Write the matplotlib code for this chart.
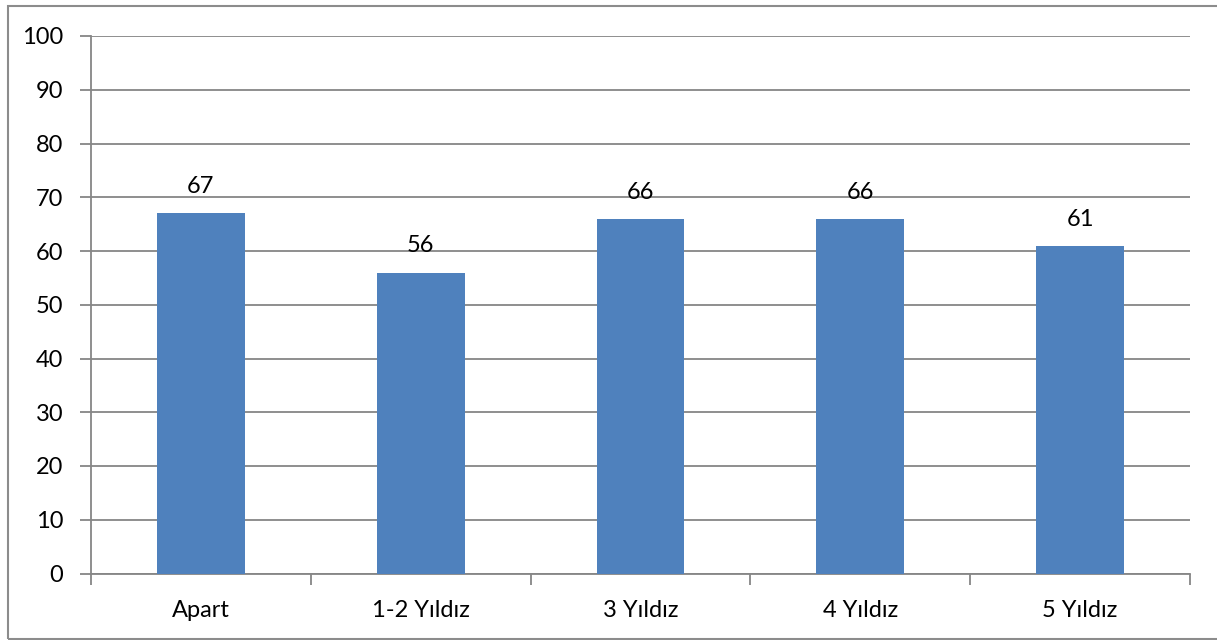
import matplotlib
matplotlib.use("Agg")
import matplotlib.pyplot as plt
from matplotlib.patches import Rectangle

categories = ["Apart", "1-2 Yıldız", "3 Yıldız", "4 Yıldız", "5 Yıldız"]
values = [67, 56, 66, 66, 61]
y_ticks = [0, 10, 20, 30, 40, 50, 60, 70, 80, 90, 100]

W, H = 1217, 640
fig = plt.figure(figsize=(W / 100, H / 100), dpi=100)
plt.rcParams["font.family"] = ["Lato", "DejaVu Sans"]

left, right, top, bottom = 91, 1190, 36, 573.5
ax = fig.add_axes([left / W, 1 - bottom / H, (right - left) / W, (bottom - top) / H])

grid_col = "#868686"
bar_col = "#4F81BD"
fs = 17
x = list(range(len(categories)))
ax.bar(x, values, width=0.4, color=bar_col, zorder=3)

for xi, v in zip(x, values):
    ax.annotate(str(v), (xi, v), xytext=(0, 16), textcoords="offset pixels",
                ha="center", va="bottom", fontsize=fs, color="black")

ax.set_xlim(-0.5, len(categories) - 0.5)
ax.set_ylim(0, 100)
ax.set_yticks(y_ticks)
ax.set_yticklabels([str(t) for t in y_ticks], fontsize=fs)
ax.yaxis.grid(True, color=grid_col, linewidth=1.3, zorder=0)
ax.set_axisbelow(True)

ax.set_xticks(x)
ax.set_xticklabels(categories, fontsize=fs)
ax.tick_params(axis="x", length=0, pad=19)
ax.set_xticks([i - 0.5 for i in range(len(categories) + 1)], minor=True)
ax.tick_params(axis="x", which="minor", length=8, width=1.3, color=grid_col)
ax.tick_params(axis="y", length=8, width=1.3, color=grid_col, pad=12)

for s in ["top", "right"]:
    ax.spines[s].set_visible(False)
for s in ["left", "bottom"]:
    ax.spines[s].set_color(grid_col)
    ax.spines[s].set_linewidth(1.3)

# outer chart frame
fig.patches.append(Rectangle((8 / W, 1 / H), 1.2, (H - 7) / H, transform=fig.transFigure,
                             fill=False, edgecolor="#8C8C8C", linewidth=1.5))

fig.savefig("out.png", dpi=100)
